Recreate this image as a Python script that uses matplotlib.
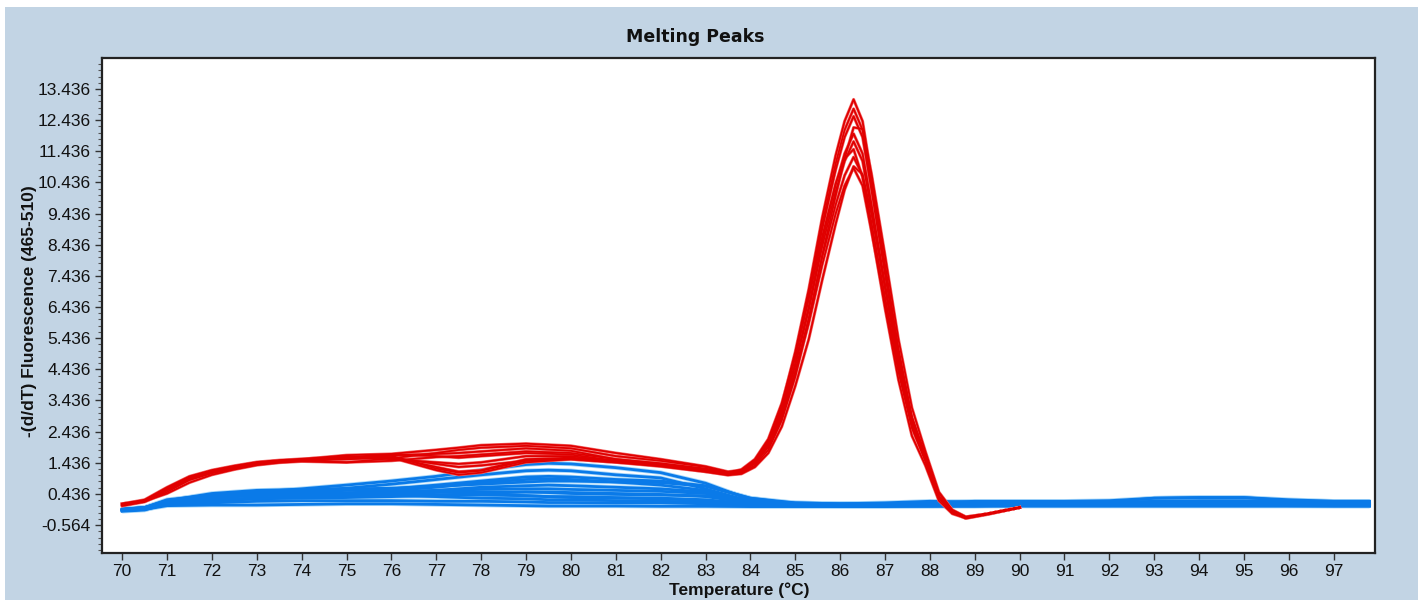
import matplotlib
matplotlib.use("Agg")
import matplotlib.pyplot as plt
from matplotlib.ticker import FixedLocator
from matplotlib.patches import Rectangle

# ---------------- data ----------------
T_red = [70, 70.5, 71, 71.5, 72, 72.5, 73, 73.5, 74, 75, 76, 77, 77.5, 78, 79, 80, 81, 82, 83,
         83.5, 83.8,
         84.1, 84.4, 84.7, 85.0, 85.3, 85.6, 85.9, 86.1, 86.3, 86.5, 86.7, 87.0, 87.3, 87.6, 87.9,
         88.2, 88.5, 88.8, 89.3, 90]

red_1 = [0.12, 0.22, 0.62, 0.98, 1.18, 1.32, 1.44, 1.50, 1.55, 1.68, 1.72, 1.85, 1.92, 2.00, 2.05, 1.98, 1.75, 1.55, 1.32,
         1.15, 1.20,
         1.50, 2.15, 3.30, 5.00, 7.00, 9.30, 11.30, 12.40, 13.10, 12.40, 10.60, 7.80, 5.10, 2.90, 1.60,
         0.35, -0.15, -0.35, -0.22, 0.0]
red_2 = [0.10, 0.20, 0.58, 0.95, 1.15, 1.30, 1.42, 1.50, 1.52, 1.60, 1.68, 1.72, 1.75, 1.80, 1.90, 1.82, 1.55, 1.40, 1.22,
         1.10, 1.18,
         1.49, 2.12, 3.24, 4.90, 6.85, 9.09, 11.04, 12.12, 12.80, 12.12, 10.36, 7.63, 5.00, 2.85, 1.59,
         0.33, -0.15, -0.34, -0.20, 0.0]
red_3 = [0.08, 0.20, 0.55, 0.92, 1.12, 1.28, 1.40, 1.48, 1.50, 1.58, 1.62, 1.30, 1.15, 1.20, 1.55, 1.60, 1.50, 1.38, 1.20,
         1.08, 1.15,
         1.48, 2.10, 3.20, 4.82, 6.73, 8.93, 10.84, 11.89, 12.56, 11.89, 10.17, 7.49, 4.92, 2.81, 1.57,
         0.35, -0.12, -0.33, -0.20, 0.0]
red_4 = [0.10, 0.22, 0.60, 0.95, 1.16, 1.30, 1.44, 1.50, 1.54, 1.62, 1.70, 1.65, 1.60, 1.65, 1.75, 1.70, 1.50, 1.35, 1.18,
         1.06, 1.10,
         1.35, 1.85, 2.80, 4.20, 6.00, 8.10, 10.00, 11.20, 12.20, 12.15, 10.70, 8.10, 5.40, 3.20, 1.80,
         0.50, -0.08, -0.30, -0.20, 0.0]
red_5 = [0.05, 0.18, 0.50, 0.88, 1.10, 1.25, 1.38, 1.45, 1.50, 1.55, 1.60, 1.20, 1.05, 1.12, 1.45, 1.55, 1.45, 1.32, 1.15,
         1.05, 1.12,
         1.45, 2.05, 3.09, 4.64, 6.45, 8.54, 10.36, 11.36, 12.00, 11.36, 9.73, 7.18, 4.73, 2.73, 1.55,
         0.32, -0.15, -0.33, -0.20, 0.0]
red_6 = [0.12, 0.25, 0.65, 1.00, 1.20, 1.34, 1.46, 1.52, 1.56, 1.64, 1.55, 1.45, 1.40, 1.45, 1.65, 1.65, 1.48, 1.36, 1.20,
         1.08, 1.14,
         1.44, 2.02, 3.04, 4.55, 6.33, 8.37, 10.15, 11.12, 11.75, 11.12, 9.52, 7.04, 4.64, 2.69, 1.53,
         0.34, -0.12, -0.32, -0.20, 0.0]
red_7 = [0.10, 0.20, 0.45, 0.80, 1.05, 1.22, 1.36, 1.44, 1.48, 1.45, 1.50, 1.62, 1.65, 1.70, 1.80, 1.75, 1.55, 1.42, 1.25,
         1.12, 1.22,
         1.55, 2.20, 3.35, 4.90, 6.70, 8.70, 10.40, 11.20, 11.50, 10.60, 8.90, 6.40, 4.10, 2.30, 1.35,
         0.22, -0.20, -0.34, -0.20, 0.0]
red_8 = [0.08, 0.20, 0.58, 0.93, 1.14, 1.28, 1.40, 1.47, 1.50, 1.58, 1.60, 1.40, 1.30, 1.35, 1.50, 1.55, 1.45, 1.35, 1.18,
         1.06, 1.12,
         1.42, 1.97, 2.95, 4.39, 6.08, 8.03, 9.72, 10.66, 11.25, 10.66, 9.13, 6.76, 4.47, 2.61, 1.51,
         0.33, -0.14, -0.32, -0.20, 0.0]
red_9 = [0.10, 0.22, 0.60, 0.96, 1.17, 1.30, 1.43, 1.50, 1.52, 1.60, 1.66, 1.25, 1.12, 1.18, 1.50, 1.58, 1.47, 1.33, 1.15,
         1.04, 1.08,
         1.30, 1.75, 2.60, 3.90, 5.40, 7.30, 9.10, 10.20, 10.95, 10.70, 9.40, 7.10, 4.80, 2.90, 1.70,
         0.45, -0.08, -0.30, -0.20, 0.0]
red_10 = [0.12, 0.22, 0.60, 0.95, 1.16, 1.30, 1.42, 1.48, 1.50, 1.45, 1.58, 1.75, 1.85, 1.92, 1.98, 1.90, 1.65, 1.50, 1.30,
          1.12, 1.18,
          1.41, 1.94, 2.88, 4.27, 5.91, 7.79, 9.43, 10.33, 10.90, 10.33, 8.85, 6.56, 4.35, 2.55, 1.49,
          0.32, -0.15, -0.33, -0.20, 0.0]

red_curves = [red_1, red_2, red_3, red_4, red_5, red_6, red_7, red_8, red_9, red_10]

T_blue = [70, 70.5, 71, 72, 73, 74, 75, 76, 77, 78, 79, 79.5, 80, 81, 82, 83, 84, 85, 86,
          87, 88, 89, 90, 91, 92, 93, 94, 95, 96, 97, 97.8]

blue_1 = [-0.05, 0.00, 0.25, 0.40, 0.50, 0.60, 0.72, 0.85, 1.00, 1.20, 1.38, 1.42, 1.40, 1.28, 1.12, 0.78, 0.25, 0.15, 0.12, 0.12, 0.15, 0.20, 0.20, 0.20, 0.22, 0.30, 0.32, 0.32, 0.25, 0.20, 0.20]
blue_2 = [-0.08, -0.02, 0.20, 0.35, 0.45, 0.55, 0.62, 0.75, 0.90, 1.05, 1.18, 1.20, 1.18, 1.05, 0.95, 0.60, 0.20, 0.12, 0.10, 0.10, 0.12, 0.15, 0.15, 0.15, 0.15, 0.20, 0.22, 0.22, 0.20, 0.18, 0.18]
blue_3 = [-0.10, -0.05, 0.18, 0.30, 0.42, 0.50, 0.55, 0.60, 0.72, 0.85, 0.98, 1.00, 0.98, 0.90, 0.85, 0.70, 0.30, 0.12, 0.08, 0.10, 0.10, 0.12, 0.12, 0.12, 0.12, 0.15, 0.15, 0.15, 0.15, 0.12, 0.12]
blue_4 = [-0.06, 0.00, 0.22, 0.45, 0.55, 0.58, 0.60, 0.62, 0.68, 0.75, 0.82, 0.85, 0.85, 0.82, 0.80, 0.68, 0.30, 0.15, 0.12, 0.12, 0.12, 0.15, 0.18, 0.18, 0.18, 0.30, 0.32, 0.32, 0.22, 0.20, 0.20]
blue_5 = [-0.10, -0.05, 0.15, 0.25, 0.30, 0.35, 0.40, 0.45, 0.55, 0.65, 0.70, 0.72, 0.70, 0.65, 0.60, 0.50, 0.20, 0.10, 0.08, 0.06, 0.05, 0.05, 0.06, 0.06, 0.06, 0.08, 0.08, 0.08, 0.06, 0.05, 0.05]
blue_6 = [-0.08, -0.02, 0.20, 0.40, 0.50, 0.50, 0.48, 0.50, 0.55, 0.58, 0.60, 0.60, 0.58, 0.55, 0.52, 0.45, 0.22, 0.12, 0.12, 0.15, 0.20, 0.18, 0.15, 0.15, 0.15, 0.15, 0.15, 0.18, 0.18, 0.15, 0.15]
blue_7 = [-0.10, -0.05, 0.12, 0.20, 0.28, 0.30, 0.32, 0.35, 0.40, 0.45, 0.50, 0.50, 0.48, 0.45, 0.42, 0.35, 0.15, 0.08, 0.05, 0.05, 0.05, 0.05, 0.05, 0.05, 0.05, 0.05, 0.05, 0.05, 0.05, 0.05, 0.05]
blue_8 = [-0.08, -0.02, 0.18, 0.32, 0.38, 0.40, 0.42, 0.42, 0.40, 0.40, 0.38, 0.35, 0.35, 0.32, 0.30, 0.25, 0.12, 0.10, 0.08, 0.08, 0.10, 0.10, 0.10, 0.12, 0.10, 0.10, 0.10, 0.10, 0.10, 0.10, 0.10]
blue_9 = [-0.06, 0.00, 0.15, 0.25, 0.30, 0.32, 0.35, 0.38, 0.35, 0.30, 0.28, 0.25, 0.25, 0.22, 0.20, 0.18, 0.10, 0.06, 0.05, 0.05, 0.05, 0.08, 0.08, 0.08, 0.08, 0.08, 0.08, 0.08, 0.08, 0.08, 0.08]
blue_10 = [-0.10, -0.06, 0.10, 0.15, 0.20, 0.22, 0.22, 0.22, 0.20, 0.20, 0.18, 0.16, 0.16, 0.15, 0.15, 0.12, 0.08, 0.05, 0.05, 0.05, 0.05, 0.05, 0.05, 0.05, 0.05, 0.05, 0.05, 0.05, 0.05, 0.05, 0.05]
blue_11 = [-0.10, -0.06, 0.06, 0.08, 0.08, 0.10, 0.12, 0.12, 0.10, 0.08, 0.06, 0.05, 0.05, 0.05, 0.04, 0.04, 0.03, 0.03, 0.03, 0.03, 0.05, 0.05, 0.08, 0.10, 0.10, 0.10, 0.10, 0.10, 0.10, 0.10, 0.10]
blue_12 = [-0.08, -0.03, 0.20, 0.38, 0.45, 0.45, 0.45, 0.45, 0.48, 0.50, 0.50, 0.48, 0.45, 0.42, 0.40, 0.38, 0.20, 0.10, 0.10, 0.10, 0.12, 0.15, 0.15, 0.15, 0.15, 0.20, 0.20, 0.20, 0.15, 0.12, 0.12]
blue_13 = [-0.12, -0.08, 0.12, 0.22, 0.30, 0.35, 0.45, 0.55, 0.65, 0.80, 0.90, 0.92, 0.90, 0.82, 0.72, 0.55, 0.20, 0.08, 0.06, 0.06, 0.08, 0.08, 0.08, 0.10, 0.10, 0.10, 0.10, 0.10, 0.10, 0.08, 0.08]
blue_14 = [-0.05, 0.00, 0.22, 0.42, 0.52, 0.56, 0.58, 0.56, 0.52, 0.45, 0.38, 0.35, 0.32, 0.30, 0.28, 0.22, 0.12, 0.10, 0.10, 0.10, 0.10, 0.12, 0.12, 0.12, 0.12, 0.12, 0.12, 0.12, 0.12, 0.12, 0.12]

blue_curves = [blue_1, blue_2, blue_3, blue_4, blue_5, blue_6, blue_7, blue_8,
               blue_9, blue_10, blue_11, blue_12, blue_13, blue_14]

x_ticks = list(range(70, 98))
y_ticks = [-0.564, 0.436, 1.436, 2.436, 3.436, 4.436, 5.436, 6.436, 7.436,
           8.436, 9.436, 10.436, 11.436, 12.436, 13.436]
y_tick_labels = ["-0.564", "0.436", "1.436", "2.436", "3.436", "4.436", "5.436",
                 "6.436", "7.436", "8.436", "9.436", "10.436", "11.436", "12.436", "13.436"]

title = "Melting Peaks"
x_label = "Temperature (°C)"
y_label = "-(d/dT) Fluorescence (465-510)"

# ---------------- style ----------------
BG = "#C2D4E4"
narrow = ["Liberation Sans Narrow", "Liberation Sans", "DejaVu Sans"]

fig = plt.figure(figsize=(14.23, 6.0), dpi=100, facecolor="white")
fig.patches.append(Rectangle((5 / 1423, 0), 1 - 10 / 1423, 1 - 7 / 600,
                             transform=fig.transFigure, facecolor=BG,
                             edgecolor="none", zorder=-10))

ax = fig.add_axes([102 / 1423, 1 - 553 / 600, (1375 - 102) / 1423, (553 - 58) / 600])
ax.set_facecolor("white")

for ys in blue_curves:
    ax.plot(T_blue, ys, color="#A8D8FA", lw=3.2, solid_capstyle="butt", zorder=2)
for ys in blue_curves:
    ax.plot(T_blue, ys, color="#0A7AE8", lw=2.0, zorder=3)
for ys in red_curves:
    ax.plot(T_red, ys, color="#F26A6A", lw=2.2, zorder=4)
for ys in red_curves:
    ax.plot(T_red, ys, color="#E00000", lw=1.3, zorder=5)

ax.set_xlim(69.55, 97.92)
ax.set_ylim(-1.46, 14.43)
ax.xaxis.set_major_locator(FixedLocator(x_ticks))
ax.set_xticklabels([str(v) for v in x_ticks])
ax.yaxis.set_major_locator(FixedLocator(y_ticks))
ax.set_yticklabels(y_tick_labels)
ax.yaxis.set_minor_locator(FixedLocator([y_ticks[0] - 0.2 * k for k in range(1, 5)] +
                                        [t + 0.2 * k for t in y_ticks for k in range(1, 5)]))

ax.tick_params(axis="both", which="major", direction="out", length=5, width=1,
               color="#333333", labelsize=12.5, labelcolor="#111111", pad=3)
ax.tick_params(axis="y", which="minor", direction="out", length=3, width=0.8,
               color="#555555")
for lab in ax.get_xticklabels() + ax.get_yticklabels():
    lab.set_family(narrow)

for s in ax.spines.values():
    s.set_color("#222222")
    s.set_linewidth(1.6)

fig.text(695 / 1423, 1 - 37 / 600, title, ha="center", va="center",
         fontsize=12.5, fontweight="heavy", family=["DejaVu Sans"], color="#111111")
fig.text(30 / 1423, 1 - 311 / 600, y_label, rotation=90, ha="center", va="center",
         fontsize=12.5, fontweight="bold", family=narrow, color="#111111")
fig.text(739 / 1423, 1 - 590 / 600, x_label, ha="center", va="center",
         fontsize=12.5, fontweight="bold", family=narrow, color="#111111")

fig.savefig("out.png", dpi=100, facecolor="white")
